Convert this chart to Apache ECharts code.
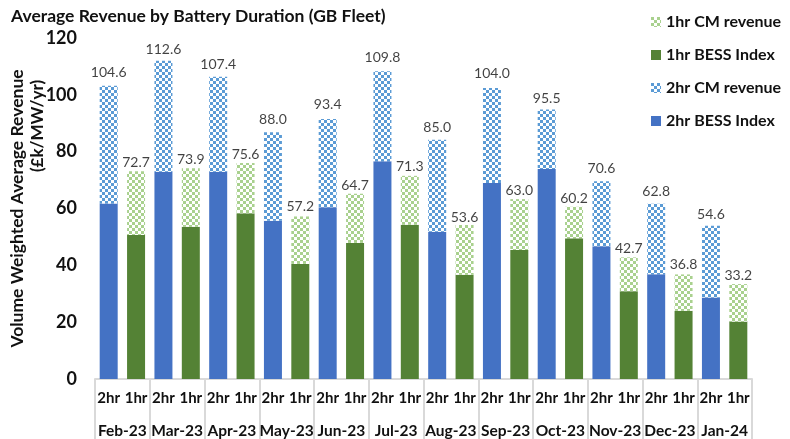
<!DOCTYPE html>
<html>
<head>
<meta charset="utf-8">
<script src="https://cdn.jsdelivr.net/npm/echarts@6/dist/echarts.min.js"></script>
<style>
  html, body { margin: 0; padding: 0; background: #fff; }
  #chart { width: 790px; height: 439px; }
</style>
</head>
<body>
<div id="chart"></div>
<script>
// data
var months = ["Feb-23", "Mar-23", "Apr-23", "May-23", "Jun-23", "Jul-23", "Aug-23", "Sep-23", "Oct-23", "Nov-23", "Dec-23", "Jan-24"];
var durations = ["2hr", "1hr"];
var bess2hr = [61.8, 72.9, 72.9, 55.7, 60.4, 76.6, 51.8, 69.0, 73.9, 46.7, 36.9, 28.7];
var cm2hr = [41.4, 39.1, 33.5, 31.1, 31.1, 31.7, 32.4, 33.4, 20.9, 22.9, 24.8, 25.2];
var bess1hr = [50.7, 53.6, 58.3, 40.5, 47.9, 54.3, 36.7, 45.4, 49.5, 30.9, 24.0, 20.2];
var cm1hr = [22.4, 20.6, 17.7, 16.7, 17.3, 17.2, 17.5, 17.9, 11.1, 11.9, 12.8, 13.2];
var total2hr = [104.6, 112.6, 107.4, 88.0, 93.4, 109.8, 85.0, 104.0, 95.5, 70.6, 62.8, 54.6];
var total1hr = [72.7, 73.9, 75.6, 57.2, 64.7, 71.3, 53.6, 63.0, 60.2, 42.7, 36.8, 33.2];
var yTicks = [0, 20, 40, 60, 80, 100, 120];

// checker pattern for CM revenue
function checker(col) {
  var c = document.createElement("canvas");
  c.width = 6;
  c.height = 6;
  var ctx = c.getContext("2d");
  ctx.fillStyle = "#ffffff";
  ctx.fillRect(0, 0, 6, 6);
  ctx.fillStyle = col;
  ctx.fillRect(0, 0, 3, 3);
  ctx.fillRect(3, 3, 3, 3);
  return { image: c, repeat: "repeat" };
}

// 24 sub-categories: 2hr / 1hr for each month
var cats = [];
months.forEach(function (m) {
  durations.forEach(function (d) {
    cats.push(m + "|" + d);
  });
});
function spread(arr, slot) {
  var out = [];
  arr.forEach(function (v) {
    if (slot === 0) { out.push(v, "-"); } else { out.push("-", v); }
  });
  return out;
}
var totals = [];
for (var i = 0; i < months.length; i++) {
  totals.push(total2hr[i], total1hr[i]);
}

var font = "Lato";
var ink = "#111";
var chart = echarts.init(document.getElementById("chart"));
var option = {
  animation: false,
  textStyle: { fontFamily: font },
  title: {
    text: "Average Revenue by Battery Duration (GB Fleet)",
    left: 6,
    top: 2,
    textStyle: { fontFamily: font, fontSize: 17.5, fontWeight: "bold", color: ink }
  },
  legend: {
    orient: "vertical",
    left: 646,
    top: 9,
    itemWidth: 10,
    itemHeight: 10,
    itemGap: 17,
    itemTextGap: 5,
    icon: "rect",
    data: ["1hr CM revenue", "1hr BESS Index", "2hr CM revenue", "2hr BESS Index"],
    textStyle: { fontFamily: font, fontSize: 16, fontWeight: "bold", color: ink }
  },
  grid: { left: 93, right: 38, top: 38, bottom: 59 },
  graphic: [{
    type: "text",
    x: 38,
    y: 126,
    rotation: Math.PI / 2,
    style: {
      text: "(£k/MW/yr)",
      font: "bold 17px " + font,
      fill: ink,
      align: "center",
      verticalAlign: "middle"
    }
  }],
  xAxis: [{
    type: "category",
    data: cats,
    axisLine: { lineStyle: { color: "#d9d9d9", width: 2 } },
    axisTick: { show: false },
    axisLabel: {
      interval: 0,
      margin: 12,
      fontFamily: font,
      fontSize: 15,
      fontWeight: "bold",
      color: ink,
      formatter: function (v) { return v.split("|")[1]; }
    }
  }, {
    type: "category",
    position: "bottom",
    data: months,
    axisLine: { show: false },
    axisTick: { show: true, interval: 0, length: 60, lineStyle: { color: "#d9d9d9", width: 2 } },
    axisLabel: {
      interval: 0,
      margin: 44,
      fontFamily: font,
      fontSize: 15.5,
      fontWeight: "bold",
      color: ink
    }
  }],
  yAxis: {
    type: "value",
    min: yTicks[0],
    max: yTicks[yTicks.length - 1],
    interval: 20,
    name: "Volume Weighted Average Revenue",
    nameLocation: "middle",
    nameGap: 69,
    nameTextStyle: { fontFamily: font, fontSize: 17.5, fontWeight: "bold", color: ink },
    axisLine: { show: false },
    axisTick: { show: false },
    splitLine: { show: false },
    axisLabel: { margin: 18, fontFamily: font, fontSize: 18, fontWeight: "bold", color: ink }
  },
  series: [{
    name: "2hr BESS Index",
    type: "bar",
    stack: "rev",
    barWidth: 18,
    itemStyle: { color: "#4472c4" },
    data: spread(bess2hr, 0)
  }, {
    name: "2hr CM revenue",
    type: "bar",
    stack: "rev",
    barWidth: 18,
    itemStyle: { color: checker("#5b9bd5") },
    data: spread(cm2hr, 0)
  }, {
    name: "1hr BESS Index",
    type: "bar",
    stack: "rev",
    barWidth: 18,
    itemStyle: { color: "#548235" },
    data: spread(bess1hr, 1)
  }, {
    name: "1hr CM revenue",
    type: "bar",
    stack: "rev",
    barWidth: 18,
    itemStyle: { color: checker("#a9d18e") },
    data: spread(cm1hr, 1)
  }, {
    // total labels
    name: "totals",
    type: "scatter",
    silent: true,
    symbolSize: 1,
    itemStyle: { color: "rgba(0,0,0,0)" },
    label: {
      show: true,
      position: "top",
      distance: 2,
      fontFamily: font,
      fontSize: 14,
      color: ink,
      formatter: function (p) { return p.value.toFixed(1); }
    },
    data: totals
  }]
};
chart.setOption(option);
</script>
</body>
</html>
